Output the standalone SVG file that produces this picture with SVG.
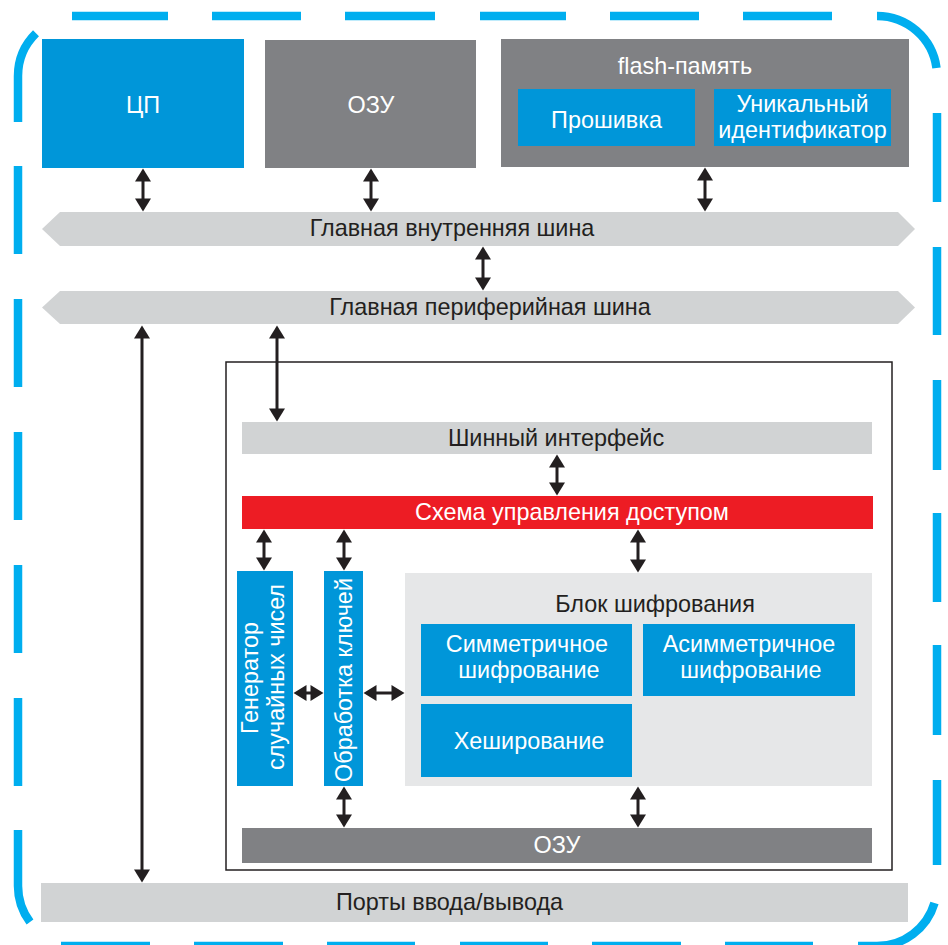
<svg xmlns="http://www.w3.org/2000/svg" width="948" height="945" viewBox="0 0 948 945">
<style>
text{font-family:"Liberation Sans",Arial,sans-serif;font-size:23.4px;text-anchor:middle}
.w{fill:#ffffff}
.d{fill:#231f20}
.blue{fill:#0096d9}
.gray{fill:#808184}
.lg{fill:#d1d3d4}
.blk{fill:#e6e7e8}
.red{fill:#ed1c24}
.dash{fill:none;stroke:#00aeef;stroke-width:8.5;stroke-linecap:butt}
.c{stroke:#231f20;stroke-width:3;fill:none;marker-start:url(#ah);marker-end:url(#ah)}
</style>
<defs>
<marker id="ah" markerUnits="userSpaceOnUse" markerWidth="16" markerHeight="16" viewBox="0 0 13 16" refX="0.5" refY="8" orient="auto-start-reverse">
<path d="M0,0 L13,8 L0,16 Z" fill="#231f20"/>
</marker>
</defs>
<rect width="948" height="945" fill="#ffffff"/>
<g id="border">
<path class="dash" d="M72,16H168M212,16H301M345,16H435M480,16H566M610,16H699M743,16H832"/>
<path class="dash" d="M877,16A60,60 0 0 1 936.5,68"/>
<path class="dash" d="M937,113V202M937,247V335M937,380V470M937,513V602M937,645V735M937,780V865"/>
<path class="dash" d="M934.5,903A60,60 0 0 1 877,946L858,946"/>
<path class="dash" d="M813,946H725M681,946H592M548,946H460M415,946H327M283,946H194M150,946H61"/>
<path class="dash" d="M18,830L18,886A60,60 0 0 0 30,922"/>
<path class="dash" d="M18,786V698M18,653V565M18,520V432M18,387V299M18,254V166"/>
<path class="dash" d="M18,122L18,76A60,60 0 0 1 36,33.2"/>
</g>
<g id="cpu">
<rect class="blue" x="42" y="39" width="202" height="129"/>
<text class="w" x="143" y="113">ЦП</text>
</g>
<g id="ram">
<rect class="gray" x="265" y="40" width="211" height="128"/>
<text class="w" x="371" y="113">ОЗУ</text>
</g>
<g id="flash">
<rect class="gray" x="501" y="39" width="408" height="128"/>
<text class="w" x="685" y="74">flash-память</text>
</g>
<g id="firmware">
<rect class="blue" x="518" y="89" width="177" height="57"/>
<text class="w" x="606.5" y="128">Прошивка</text>
</g>
<g id="uid">
<rect class="blue" x="714" y="89" width="177" height="57"/>
<text class="w" x="802.5" y="112">Уникальный</text>
<text class="w" x="802.5" y="138">идентификатор</text>
</g>
<g id="bus-internal">
<polygon class="lg" points="42,229 60,212 898,212 915,229 898,246 60,246"/>
<text class="d" x="452" y="236">Главная внутренняя шина</text>
</g>
<g id="bus-peripheral">
<polygon class="lg" points="42,307.5 60,291 898,291 915,307.5 898,324 60,324"/>
<text class="d" x="490" y="315">Главная периферийная шина</text>
</g>
<g id="crypto-frame">
<rect x="226" y="362" width="666" height="508" fill="#ffffff" stroke="#231f20" stroke-width="1.5"/>
</g>
<g id="bus-interface">
<rect class="lg" x="242" y="422" width="630" height="32"/>
<text class="d" x="556" y="446">Шинный интерфейс</text>
</g>
<g id="access-control">
<rect class="red" x="242" y="496" width="631" height="33"/>
<text class="w" x="572" y="520">Схема управления доступом</text>
</g>
<g id="rng">
<rect class="blue" x="237" y="571" width="56" height="215"/>
<text class="w" transform="translate(258,678) rotate(-90)">Генератор</text>
<text class="w" transform="translate(284,677) rotate(-90)">случайных чисел</text>
</g>
<g id="key-processing">
<rect class="blue" x="324" y="571" width="39" height="215"/>
<text class="w" transform="translate(351.5,680) rotate(-90)">Обработка ключей</text>
</g>
<g id="crypto-block">
<rect class="blk" x="405" y="573" width="467" height="213"/>
<text class="d" x="655" y="612">Блок шифрования</text>
</g>
<g id="symmetric">
<rect class="blue" x="421" y="624" width="211" height="72"/>
<text class="w" x="527" y="652">Симметричное</text>
<text class="w" x="529" y="678">шифрование</text>
</g>
<g id="asymmetric">
<rect class="blue" x="643" y="624" width="212" height="72"/>
<text class="w" x="749" y="652">Асимметричное</text>
<text class="w" x="751" y="678">шифрование</text>
</g>
<g id="hashing">
<rect class="blue" x="421" y="704" width="211" height="73"/>
<text class="w" x="529" y="749">Хеширование</text>
</g>
<g id="ram2">
<rect class="gray" x="242" y="828" width="630" height="35"/>
<text class="w" x="557" y="853">ОЗУ</text>
</g>
<g id="io-ports">
<rect class="lg" x="41" y="883" width="867" height="39"/>
<text class="d" x="449.5" y="910">Порты ввода/вывода</text>
</g>
<g id="connectors">
<line class="c" x1="143" y1="181" x2="143" y2="199"/>
<line class="c" x1="371" y1="181" x2="371" y2="199"/>
<line class="c" x1="705" y1="180" x2="705" y2="199"/>
<line class="c" x1="483" y1="259" x2="483" y2="278"/>
<line class="c" x1="142" y1="338" x2="142" y2="870"/>
<line class="c" x1="277" y1="338" x2="277" y2="409"/>
<line class="c" x1="557" y1="467" x2="557" y2="483"/>
<line class="c" x1="264" y1="542" x2="264" y2="558"/>
<line class="c" x1="344" y1="542" x2="344" y2="558"/>
<line class="c" x1="638" y1="542" x2="638" y2="560"/>
<line class="c" x1="306" y1="693" x2="311" y2="693"/>
<line class="c" x1="376" y1="693" x2="392" y2="693"/>
<line class="c" x1="344" y1="799" x2="344" y2="815"/>
<line class="c" x1="638" y1="799" x2="638" y2="815"/>
</g>
</svg>
